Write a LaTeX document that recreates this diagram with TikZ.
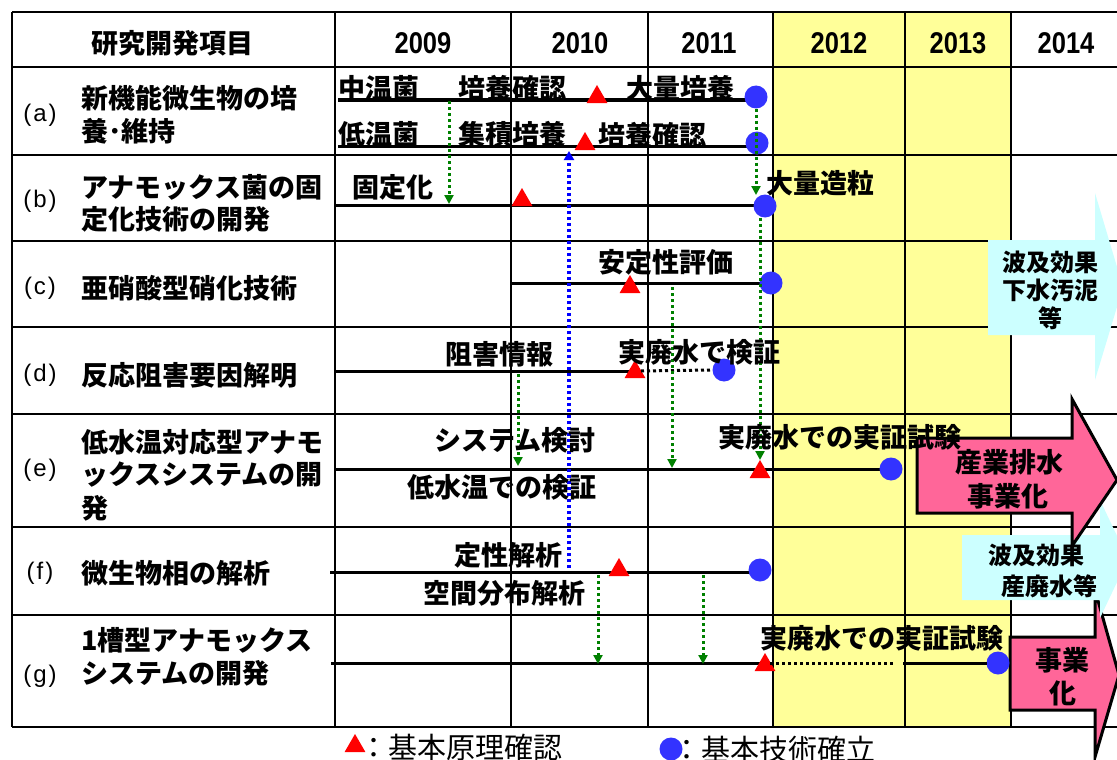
\documentclass[tikz,border=0pt]{standalone}
\usepackage{fontspec}
\setmainfont{Noto Sans CJK JP}
\newfontfamily\lib{Liberation Sans}
\newfontfamily\libn{Liberation Sans}[FakeStretch=0.85]
\usetikzlibrary{arrows.meta,shapes.geometric}
\definecolor{yel}{RGB}{255,255,153}
\definecolor{pinkar}{RGB}{255,102,153}
\definecolor{lcyan}{RGB}{204,255,255}
\definecolor{dotblue}{RGB}{51,51,255}
\definecolor{dkgreen}{RGB}{0,128,0}
\definecolor{lineblue}{RGB}{0,0,255}
\begin{document}
\begin{tikzpicture}[x=1pt,y=-1pt,
  gridline/.style={line width=1.6pt},
  jb/.style={font=\fontsize{27}{30}\selectfont\bfseries, inner sep=0pt, anchor=west},
  jbc/.style={font=\fontsize{27}{30}\selectfont\bfseries, inner sep=0pt},
  jbs/.style={font=\fontsize{24}{27}\selectfont\bfseries, inner sep=0pt},
  legtxt/.style={font=\fontsize{29}{32}\selectfont, inner sep=0pt, anchor=west},
  yr/.style={font=\libn\fontsize{30}{33}\selectfont\bfseries, inner sep=0pt},
  idx/.style={font=\lib\fontsize{24}{27}\selectfont, inner sep=0pt},
  tl/.style={line width=3pt},
  trimark/.style={regular polygon, regular polygon sides=3, fill=red, minimum size=24pt, inner sep=0pt, outer sep=0pt},
  dotmark/.style={circle, fill=dotblue, minimum size=23pt, inner sep=0pt, outer sep=0pt},
  garrow/.style={dkgreen, line width=3pt, dash pattern=on 3pt off 3pt, -{Triangle[length=9pt,width=9pt]}},
  barrow/.style={lineblue, line width=3.2pt, dash pattern=on 3pt off 3pt, -{Triangle[length=9pt,width=10pt]}},
  kdot/.style={line width=3pt, dash pattern=on 3pt off 3pt},
  pinkshape/.style={fill=pinkar, draw=black, line width=3pt, line join=miter},
  cyanshape/.style={fill=lcyan}
]
\useasboundingbox (0,0) rectangle (1117,760);
\clip (0,0) rectangle (1117,760);

% grid
\fill[yel] (773,12) rectangle (1011,727);
\foreach \y in {12,67,155,241,327,414,527,615,727} \draw[gridline] (12,\y) -- (1117,\y);
\foreach \x in {12,335,511,648,773,905,1011} \draw[gridline] (\x,12) -- (\x,727);

% header
\node[jbc] (h0) at (172,43) {研究開発項目};
\node[yr] (y09) at (423,43) {2009};
\node[yr] (y10) at (580,43) {2010};
\node[yr] (y11) at (709,43) {2011};
\node[yr] (y12) at (839,43) {2012};
\node[yr] (y13) at (958,43) {2013};
\node[yr] (y14) at (1066,43) {2014};

% row labels
\node[idx] (ia) at (40,115) {(\kern2pt a\kern2pt)};
\node[idx] (ib) at (40,201) {(\kern2pt b\kern2pt)};
\node[idx] (ic) at (40,288) {(\kern2pt c\kern2pt)};
\node[idx] (id) at (40,375) {(\kern2pt d\kern2pt)};
\node[idx] (ie) at (40,470) {(\kern2pt e\kern2pt)};
\node[idx] (if) at (40,573) {(\kern2pt f\kern2pt)};
\node[idx] (ig) at (40,676) {(\kern2pt g\kern2pt)};
\node[jb] (la1) at (81,98) {新機能微生物の培};
\node[jb] (la2) at (81,131) {養･維持};
\node[jb] (lb1) at (81,187) {アナモックス菌の固};
\node[jb] (lb2) at (81,219) {定化技術の開発};
\node[jb] (lc1) at (81,288) {亜硝酸型硝化技術};
\node[jb] (ld1) at (81,375) {反応阻害要因解明};
\node[jb] (le1) at (81,442) {低水温対応型アナモ};
\node[jb] (le2) at (81,475) {ックスシステムの開};
\node[jb] (le3) at (81,508) {発};
\node[jb] (lf1) at (81,573) {微生物相の解析};
\node[jb] (lg1) at (81,640) {1槽型アナモックス};
\node[jb] (lg2) at (81,673) {システムの開発};

% big arrows
\draw[pinkshape] (1010,637) -- (1095,637) -- (1095,590) -- (1119,675) -- (1095,757) -- (1095,710) -- (1010,710) -- cycle;
\fill[cyanshape] (962,535) -- (1100,535) -- (1100,500) -- (1128,559) -- (1100,618) -- (1100,600) -- (962,600) -- cycle;
\draw[pinkshape] (917,438) -- (1072,438) -- (1072,399) -- (1117,480) -- (1072,546) -- (1072,513) -- (917,513) -- cycle;
\fill[cyanshape] (988,240) -- (1095,240) -- (1095,193) -- (1123,287) -- (1095,380) -- (1095,335) -- (988,335) -- cycle;
\node[jbs] (c1a) at (1050,262) {波及効果};
\node[jbs] (c1b) at (1050,290) {下水汚泥};
\node[jbs] (c1c) at (1050,318) {等};
\node[jbs] (c2a) at (1036,555) {波及効果};
\node[jbs] (c2b) at (1049,586) {産廃水等};
\node[jbc] (p1a) at (1009,462) {産業排水};
\node[jbc] (p1b) at (1008,496) {事業化};
\node[jbc] (p2a) at (1062,660) {事業};
\node[jbc] (p2b) at (1063,693) {化};

% timeline lines
\coordinate (a1s) at (338,100); \coordinate (a1e) at (756,100);
\coordinate (a2s) at (338,146); \coordinate (a2e) at (757,146);
\coordinate (bs) at (335,205); \coordinate (be) at (765,205);
\coordinate (cs) at (511,283); \coordinate (ce) at (771,283);
\coordinate (ds) at (335,371); \coordinate (de0) at (635,371);
\coordinate (es) at (334,469); \coordinate (ee) at (891,469);
\coordinate (fs) at (330,572); \coordinate (fe) at (760,572);
\coordinate (gs) at (331,663); \coordinate (ge) at (765,663);
\draw[tl] (a1s) -- (a1e);
\draw[tl] (a2s) -- (a2e);
\draw[tl] (bs) -- (be);
\draw[tl] (cs) -- (ce);
\draw[tl] (ds) -- (de0);
\draw[tl] (es) -- (ee);
\draw[tl] (fs) -- (fe);
\draw[tl] (gs) -- (ge);

% markers
\node[dotmark] (da1) at (756,97) {};
\node[trimark] (ta1) at (597,97) {};
\node[dotmark] (da2) at (757,143) {};
\node[trimark] (ta2) at (585,144) {};
\node[dotmark] (db) at (765,206) {};
\node[trimark] (tb) at (522,200) {};
\node[dotmark] (dc) at (771,283) {};
\node[trimark] (tc) at (630,287) {};
\node[dotmark] (dd) at (724,370) {};
\node[trimark] (td) at (635,372) {};
\node[dotmark] (de) at (891,469) {};
\node[trimark] (te) at (760,472) {};
\node[dotmark] (df) at (760,570) {};
\node[trimark] (tf) at (619,570) {};
\node[dotmark] (dg) at (998,663) {};
\node[trimark] (tg) at (765,665) {};

% dotted black segments
\coordinate (kd1) at (641,371);
\draw[kdot] (kd1) -- (dd.west);
\coordinate (kg1) at (770,663); \coordinate (kg2) at (895,663); \coordinate (kg3) at (903,663);
\draw[kdot] (kg1) -- (kg2);
\draw[tl] (kg3) -- (dg.west);

% green / blue dotted connectors
\coordinate (g1s) at (449,101); \coordinate (g1e) at (449,204);
\draw[garrow] (g1s) -- (g1e);
\coordinate (g2e) at (756,195);
\draw[garrow] (da1.south) -- (g2e);
\draw[garrow] (db.south -| te.north) -- (te.north);
\coordinate (g4s) at (672,287); \coordinate (g4e) at (672,468);
\draw[garrow] (g4s) -- (g4e);
\coordinate (g5s) at (518,374); \coordinate (g5e) at (518,466);
\draw[garrow] (g5s) -- (g5e);
\coordinate (g6s) at (598,575); \coordinate (g6e) at (598,664);
\draw[garrow] (g6s) -- (g6e);
\coordinate (g7s) at (703,575); \coordinate (g7e) at (703,664);
\draw[garrow] (g7s) -- (g7e);
\coordinate (bls) at (569,568); \coordinate (ble) at (569,151);
\draw[barrow] (bls) -- (ble);

% timeline texts
\node[jb] (xa1) at (338,88) {中温菌};
\node[jb] (xa2) at (458,88) {培養確認};
\node[jb] (xa3) at (626,88) {大量培養};
\node[jb] (xa4) at (338,134) {低温菌};
\node[jb] (xa5) at (458,134) {集積培養};
\node[jb] (xa6) at (598,135) {培養確認};
\node[jb] (xb1) at (352,187) {固定化};
\node[jb] (xb2) at (766,183) {大量造粒};
\node[jb] (xc1) at (598,262) {安定性評価};
\node[jb] (xd1) at (445,354) {阻害情報};
\node[jb] (xd2) at (618,352) {実廃水で検証};
\node[jb] (xe1) at (434,440) {システム検討};
\node[jb] (xe2) at (407,487) {低水温での検証};
\node[jb] (xe3) at (718,437) {実廃水での実証試験};
\node[jb] (xf1) at (454,555) {定性解析};
\node[jb] (xf2) at (423,593) {空間分布解析};
\node[jb] (xg1) at (760,638) {実廃水での実証試験};

% legend
\node[trimark] (ltri) at (355,746) {};
\node[legtxt] (lt1) at (359,747) {：基本原理確認};
\node[dotmark] (ldot) at (671,749) {};
\node[legtxt] (lt2) at (672,749) {：基本技術確立};
\end{tikzpicture}
\end{document}
